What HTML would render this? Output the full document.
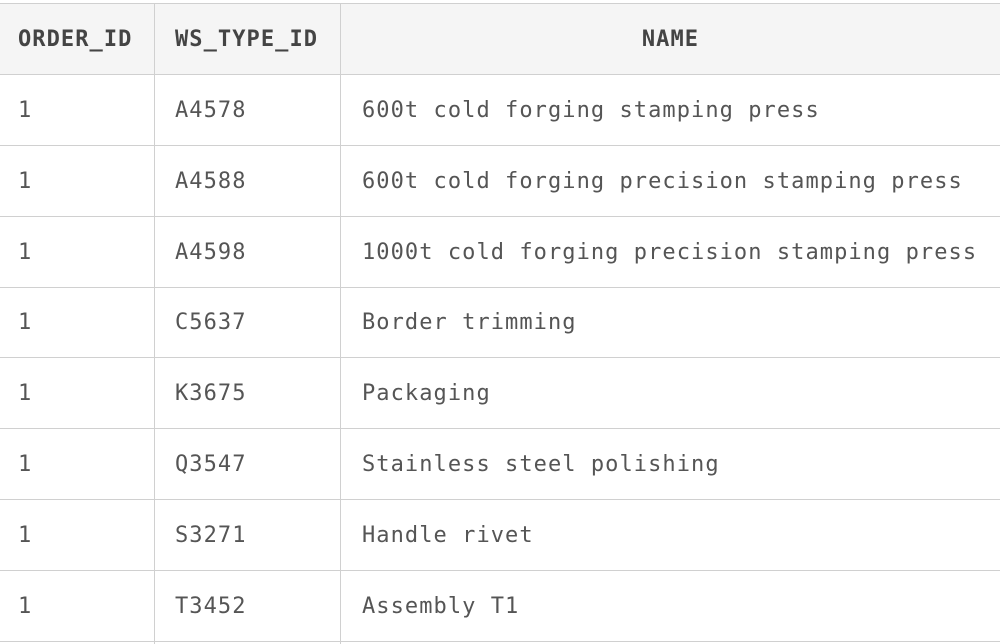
<!DOCTYPE html>
<html><head><style>
body{margin:0;width:1002px;height:644px;background:#fff;position:relative;overflow:hidden;font-family:"DejaVu Sans Mono","Liberation Mono",monospace;color:#555;}
.h{position:absolute;left:0;width:1000px;height:1px;background:#d0d0d0}
.v{position:absolute;top:3px;height:641px;width:1px;background:#d0d0d0}
.t{position:absolute;font-size:22px;line-height:71px;white-space:pre;letter-spacing:1.06px}
.b{font-weight:bold;color:#444}
</style></head><body>
<div style="position:absolute;left:0;top:3px;width:1000px;height:71px;background:#f5f5f5"></div>
<div class="h" style="top:3px"></div>
<div class="h" style="top:74px"></div>
<div class="h" style="top:145px"></div>
<div class="h" style="top:216px"></div>
<div class="h" style="top:287px"></div>
<div class="h" style="top:357px"></div>
<div class="h" style="top:428px"></div>
<div class="h" style="top:499px"></div>
<div class="h" style="top:570px"></div>
<div class="h" style="top:641px"></div>
<div class="v" style="left:154px"></div>
<div class="v" style="left:340px"></div>
<div class="t b" style="top:4px;left:18px">ORDER_ID</div>
<div class="t b" style="top:4px;left:175px">WS_TYPE_ID</div>
<div class="t b" style="top:4px;left:341px;width:659px;text-align:center">NAME</div>

<div class="t" style="top:75px;left:18px">1</div><div class="t" style="top:75px;left:175px">A4578</div><div class="t" style="top:75px;left:362px">600t cold forging stamping press</div>
<div class="t" style="top:146px;left:18px">1</div><div class="t" style="top:146px;left:175px">A4588</div><div class="t" style="top:146px;left:362px">600t cold forging precision stamping press</div>
<div class="t" style="top:217px;left:18px">1</div><div class="t" style="top:217px;left:175px">A4598</div><div class="t" style="top:217px;left:362px">1000t cold forging precision stamping press</div>
<div class="t" style="top:287px;left:18px">1</div><div class="t" style="top:287px;left:175px">C5637</div><div class="t" style="top:287px;left:362px">Border trimming</div>
<div class="t" style="top:358px;left:18px">1</div><div class="t" style="top:358px;left:175px">K3675</div><div class="t" style="top:358px;left:362px">Packaging</div>
<div class="t" style="top:429px;left:18px">1</div><div class="t" style="top:429px;left:175px">Q3547</div><div class="t" style="top:429px;left:362px">Stainless steel polishing</div>
<div class="t" style="top:500px;left:18px">1</div><div class="t" style="top:500px;left:175px">S3271</div><div class="t" style="top:500px;left:362px">Handle rivet</div>
<div class="t" style="top:571px;left:18px">1</div><div class="t" style="top:571px;left:175px">T3452</div><div class="t" style="top:571px;left:362px">Assembly T1</div>
</body></html>
